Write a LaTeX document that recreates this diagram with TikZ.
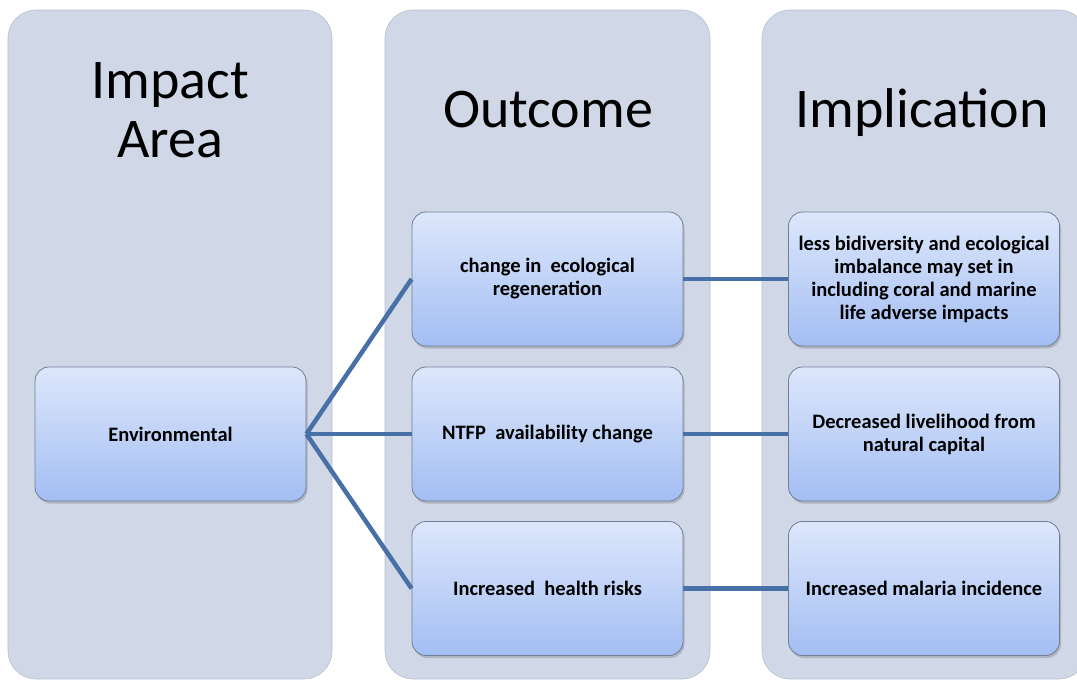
\documentclass[tikz,border=0pt]{standalone}
\usepackage{fontspec}
\setmainfont{Carlito}
\usetikzlibrary{shadows}
\definecolor{colbg}{HTML}{D0D8E8}
\definecolor{coledge}{HTML}{B8BFCC}
\definecolor{boxtop}{HTML}{DDE7FB}
\definecolor{boxbot}{HTML}{A3BEF3}
\definecolor{boxedge}{HTML}{6E7F95}
\definecolor{linkc}{HTML}{4770A6}
\tikzset{
  column/.style={fill=colbg, draw=coledge, line width=0.6pt, rounded corners=28pt},
  title/.style={font=\fontsize{56}{59}\selectfont, align=center, text=black},
  itembox/.style={rectangle, rounded corners=14pt, draw=boxedge, line width=0.8pt,
     top color=boxtop, bottom color=boxbot, minimum width=271pt, minimum height=134pt,
     font=\bfseries\fontsize{20.5}{23}\selectfont, align=center, text=black,
     drop shadow={opacity=0.4, shadow xshift=1.5pt, shadow yshift=-2.5pt}},
  link/.style={draw=linkc, line width=4.5pt}
}
\begin{document}
\begin{tikzpicture}[x=1pt,y=-1pt]
\useasboundingbox (0,0) rectangle (1077,681);
\begin{scope}
\clip (0,0) rectangle (1077,681);
\path[column] (8,10) rectangle (332,679);
\path[column] (385,10) rectangle (710,679);
\path[column] (762,10) rectangle (1087,679);
\end{scope}
\node[title] (t1) at (170,110) {Impact\\Area};
\node[title, anchor=base] (t2) at (548,127) {Outcome};
\node[title, anchor=base] (t3) at (922,127) {Implication};

\node[itembox] (env) at (170.5,434) {Environmental};
\node[itembox] (o1) at (547.5,279) {change in~ ecological\\regeneration};
\node[itembox] (o2) at (547.5,434) {NTFP~ availability change};
\node[itembox] (o3) at (547.5,588.5) {Increased~ health risks};
\node[itembox] (i1) at (924,279) {less bidiversity and ecological\\imbalance may set in\\including coral and marine\\life adverse impacts};
\node[itembox] (i2) at (924,434) {Decreased livelihood from\\natural capital};
\node[itembox] (i3) at (924,588.5) {Increased malaria incidence};

\draw[link] (env.east) -- (o1.west);
\draw[link] (env.east) -- (o2.west);
\draw[link] (env.east) -- (o3.west);
\draw[link] (o1.east) -- (i1.west);
\draw[link] (o2.east) -- (i2.west);
\draw[link] (o3.east) -- (i3.west);
\end{tikzpicture}
\end{document}
